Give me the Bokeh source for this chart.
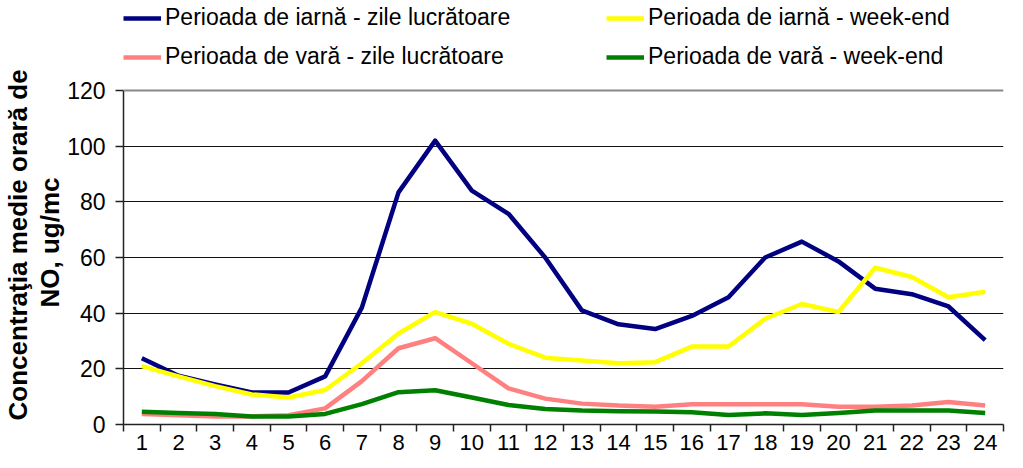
from bokeh.plotting import figure
from bokeh.models import Range1d, FixedTicker, Legend, LegendItem, Span, Title
from bokeh.embed import file_html
from bokeh.resources import INLINE

hours = list(range(1, 25))
y_ticks = [0, 20, 40, 60, 80, 100, 120]
y_title = ["Concentraţia medie orară de", "NO, ug/mc"]

iarna_lucr = [23.8, 17.5, 14.4, 11.5, 11.5, 17.3, 42.0, 83.4, 102.0, 84.0, 75.7, 60.0,
              41.0, 36.0, 34.3, 39.0, 45.7, 60.0, 65.7, 58.6, 48.8, 46.8, 42.4, 30.3]
iarna_we = [21.0, 17.3, 13.8, 10.8, 9.7, 12.4, 22.0, 32.7, 40.4, 36.2, 29.0, 24.0,
            23.0, 22.0, 22.4, 28.0, 28.0, 38.0, 43.3, 40.4, 56.3, 53.0, 45.7, 47.7]
vara_lucr = [3.8, 3.3, 2.9, 2.9, 3.3, 5.8, 15.6, 27.4, 31.0, 22.0, 13.0, 9.3,
             7.5, 6.8, 6.4, 7.3, 7.3, 7.3, 7.3, 6.4, 6.4, 6.8, 8.1, 6.8]
vara_we = [4.6, 4.1, 3.8, 2.9, 2.9, 3.8, 7.3, 11.6, 12.3, 9.7, 7.0, 5.6,
           5.0, 4.8, 4.7, 4.4, 3.4, 4.0, 3.4, 4.1, 5.0, 5.0, 5.0, 4.1]

series = [
    ("Perioada de iarnă - zile lucrătoare", iarna_lucr, "#000080"),
    ("Perioada de iarnă - week-end", iarna_we, "#FFFF00"),
    ("Perioada de vară - zile lucrătoare", vara_lucr, "#FF8080"),
    ("Perioada de vară - week-end", vara_we, "#008000"),
]

FONT = "Liberation Sans"

W, H = 1007, 456
B_LEFT, B_RIGHT, B_TOP, B_BOTTOM = 115, 4, 2, 32
frame_h = H - B_TOP - B_BOTTOM
plot_top = 90 - B_TOP            # pixel offset of the 120 line below the frame top
y_end = 120 * frame_h / (frame_h - plot_top)

p = figure(width=W, height=H, output_backend="svg", toolbar_location=None,
           x_range=Range1d(0.5, 24.5), y_range=Range1d(0, y_end),
           min_border_left=B_LEFT, min_border_right=B_RIGHT,
           min_border_top=B_TOP, min_border_bottom=B_BOTTOM)
p.outline_line_color = None
p.background_fill_color = "white"
p.border_fill_color = "white"

renderers = []
for name, vals, col in series:
    r = p.line(hours, vals, line_color=col, line_width=4.5, line_join="round")
    renderers.append((name, r))

# axes
p.xaxis.ticker = FixedTicker(ticks=hours, minor_ticks=[h + 0.5 for h in range(0, 25)])
p.xaxis.major_tick_line_color = None
p.xaxis.major_tick_out = 0
p.xaxis.major_tick_in = 0
p.xaxis.minor_tick_line_color = "#222222"
p.xaxis.minor_tick_line_width = 1.5
p.xaxis.minor_tick_out = 7
p.xaxis.minor_tick_in = 0
p.xaxis.major_label_standoff = 3
p.xaxis.axis_label_standoff = 0
p.xaxis.axis_line_color = "#222222"
p.xaxis.axis_line_width = 1.5
p.xaxis.major_label_text_font_size = "22px"

p.yaxis.ticker = FixedTicker(ticks=y_ticks, minor_ticks=[])
p.yaxis.bounds = (0, 120)
p.yaxis.major_tick_out = 8
p.yaxis.major_tick_in = 0
p.yaxis.major_tick_line_color = "#222222"
p.yaxis.major_tick_line_width = 1.5
p.yaxis.major_label_standoff = 10
p.yaxis.axis_line_color = "#222222"
p.yaxis.axis_line_width = 1.5
p.yaxis.major_label_text_font_size = "23px"

for ax in (p.xaxis, p.yaxis):
    ax.major_label_text_font = FONT
    ax.major_label_text_color = "black"

# two-line y axis title as left-side titles
t2 = Title(text=y_title[1], align="left", offset=117, standoff=0,
           text_font=FONT, text_font_style="bold", text_font_size="26px", text_color="black")
t1 = Title(text=y_title[0], align="left", offset=4, standoff=0,
           text_font=FONT, text_font_style="bold", text_font_size="26px", text_color="black")
p.add_layout(t2, "left")
p.add_layout(t1, "left")

p.xgrid.grid_line_color = None
p.ygrid.ticker = FixedTicker(ticks=y_ticks[:-1])
p.ygrid.grid_line_color = "#111111"
p.ygrid.grid_line_width = 1.2
p.add_layout(Span(location=120, dimension="width", line_color="#888888", line_width=2))

ITEM_H, GAP = 24, 12
leg_h = 2 * ITEM_H + GAP


def make_legend(idx, vx):
    return Legend(items=[LegendItem(label=renderers[i][0], renderers=[renderers[i][1]]) for i in idx],
                  orientation="vertical", location=(vx, frame_h - leg_h - 8),
                  glyph_width=38, glyph_height=ITEM_H, label_standoff=4, spacing=GAP,
                  label_text_font=FONT, label_text_font_size="23px", label_text_color="black",
                  label_height=ITEM_H, padding=0, margin=0, border_line_color=None,
                  background_fill_alpha=0)

p.add_layout(make_legend([0, 2], 0), "center")
p.add_layout(make_legend([1, 3], 483), "center")

open("out.html", "w").write(file_html(p, INLINE))
